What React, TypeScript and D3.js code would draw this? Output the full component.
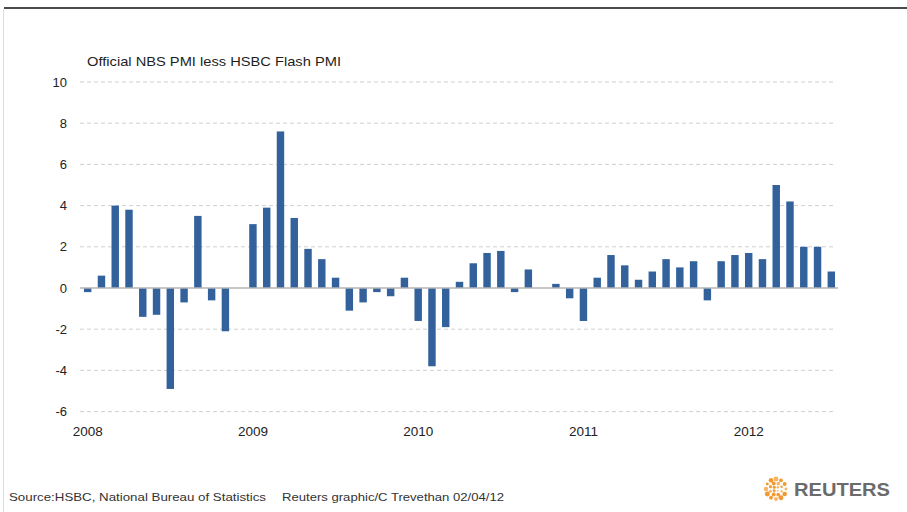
import React, { useRef, useEffect } from 'react';
import * as d3 from 'd3';

// Official NBS PMI minus HSBC flash PMI, monthly, Jan 2008 .. Jul 2012 (null = no bar)
const months: string[] = d3.range(55).map(i => {
  const d = new Date(2008, i, 1);
  return d3.timeFormat('%Y-%m')(d);
});

const pmiGap: (number | null)[] = [
  -0.2, 0.6, 4.0, 3.8, -1.4, -1.3, -4.9, -0.7, 3.5, -0.6, -2.1, null,
  3.1, 3.9, 7.6, 3.4, 1.9, 1.4, 0.5, -1.1, -0.7, -0.2, -0.4, 0.5,
  -1.6, -3.8, -1.9, 0.3, 1.2, 1.7, 1.8, -0.2, 0.9, null, 0.2, -0.5,
  -1.6, 0.5, 1.6, 1.1, 0.4, 0.8, 1.4, 1.0, 1.3, -0.6, 1.3, 1.6,
  1.7, 1.4, 5.0, 4.2, 2.0, 2.0, 0.8
];

const yTicks = [-6, -4, -2, 0, 2, 4, 6, 8, 10];
const yearLabels = ['2008', '2009', '2010', '2011', '2012'];

const W = 907;
const H = 512;
const FONT = '"Liberation Sans", Arial, sans-serif';
const BAR = '#33619b';

const App: React.FC = () => {
  const svgRef = useRef<SVGSVGElement | null>(null);

  useEffect(() => {
    if (!svgRef.current) return;
    const svg = d3.select(svgRef.current);
    svg.selectAll('*').remove();

    const x = d3.scaleBand<string>()
      .domain(months)
      .range([80.8, 838.2])
      .paddingInner(0.46)
      .paddingOuter(0.23);

    const y = d3.scaleLinear()
      .domain([-6, 10])
      .range([411.6, 82]);

    // frame lines
    svg.append('line')
      .attr('x1', 4).attr('x2', W).attr('y1', 8).attr('y2', 8)
      .attr('stroke', '#4a4a4a').attr('stroke-width', 2);
    svg.append('line')
      .attr('x1', 3.5).attr('x2', 3.5).attr('y1', 9).attr('y2', H)
      .attr('stroke', '#dcdcdc').attr('stroke-width', 1);

    // title
    svg.append('text')
      .attr('x', 87).attr('y', 66)
      .attr('font-family', FONT).attr('font-size', 13.5)
      .attr('fill', '#1e1e1e')
      .attr('textLength', 254).attr('lengthAdjust', 'spacingAndGlyphs')
      .text('Official NBS PMI less HSBC Flash PMI');

    // grid
    const grid = svg.append('g');
    grid.selectAll('line')
      .data(yTicks.filter(t => t !== 0))
      .join('line')
      .attr('x1', 80).attr('x2', 836)
      .attr('y1', d => y(d)).attr('y2', d => y(d))
      .attr('stroke', '#cfcfcf')
      .attr('stroke-dasharray', '4,3');

    // y axis labels
    svg.append('g')
      .selectAll('text')
      .data(yTicks)
      .join('text')
      .attr('x', 67)
      .attr('y', d => y(d))
      .attr('dy', '0.35em')
      .attr('text-anchor', 'end')
      .attr('font-family', FONT).attr('font-size', 13)
      .attr('fill', '#222')
      .text(d => String(d));

    // bars
    svg.append('g')
      .selectAll('rect')
      .data(months.map((m, i) => ({ m, v: pmiGap[i] })).filter(d => d.v !== null))
      .join('rect')
      .attr('x', d => x(d.m) as number)
      .attr('width', x.bandwidth())
      .attr('y', d => y(Math.max(0, d.v as number)))
      .attr('height', d => Math.abs(y(d.v as number) - y(0)))
      .attr('fill', BAR);

    // zero line
    svg.append('line')
      .attr('x1', 80).attr('x2', 838)
      .attr('y1', y(0)).attr('y2', y(0))
      .attr('stroke', '#b4b4b4').attr('stroke-width', 1.5);

    // year labels under January bars
    svg.append('g')
      .selectAll('text')
      .data(yearLabels)
      .join('text')
      .attr('x', d => (x(`${d}-01`) as number) + x.bandwidth() / 2)
      .attr('y', 436)
      .attr('text-anchor', 'middle')
      .attr('font-family', FONT).attr('font-size', 13.5)
      .attr('fill', '#222')
      .text(d => d);

    // source
    const src = svg.append('g')
      .attr('font-family', FONT).attr('font-size', 11)
      .attr('fill', '#333');
    src.append('text')
      .attr('x', 9).attr('y', 501)
      .attr('textLength', 257).attr('lengthAdjust', 'spacingAndGlyphs')
      .text('Source:HSBC, National Bureau of Statistics');
    src.append('text')
      .attr('x', 282).attr('y', 501)
      .attr('textLength', 222).attr('lengthAdjust', 'spacingAndGlyphs')
      .text('Reuters graphic/C Trevethan 02/04/12');

    // Reuters logo: ring of dots
    const logo = svg.append('g').attr('transform', 'translate(776,489)');
    const rings = [
      { r: 10, n: 12, s: 2.1 },
      { r: 6, n: 8, s: 1.7 },
      { r: 2.5, n: 4, s: 1.3 }
    ];
    rings.forEach((ring, k) => {
      logo.selectAll(`circle.r${k}`)
        .data(d3.range(ring.n))
        .join('circle')
        .attr('class', `r${k}`)
        .attr('cx', i => ring.r * Math.cos((i / ring.n) * 2 * Math.PI + k * 0.4))
        .attr('cy', i => ring.r * Math.sin((i / ring.n) * 2 * Math.PI + k * 0.4))
        .attr('r', i => ring.s * (0.7 + 0.5 * Math.abs(Math.sin(i * 0.9))))
        .attr('fill', i => (i % 3 === 0 ? '#f7b563' : '#f09a33'));
    });
    svg.append('text')
      .attr('x', 794).attr('y', 496)
      .attr('font-family', FONT).attr('font-size', 18)
      .attr('font-weight', 'bold')
      .attr('fill', '#6b6b6b')
      .attr('textLength', 96).attr('lengthAdjust', 'spacingAndGlyphs')
      .text('REUTERS');
  }, []);

  return (
    <div style={{ position: 'absolute', left: 0, top: 0 }}>
      <svg ref={svgRef} width={W} height={H} style={{ display: 'block', background: '#fff' }} />
    </div>
  );
};

export default App;
